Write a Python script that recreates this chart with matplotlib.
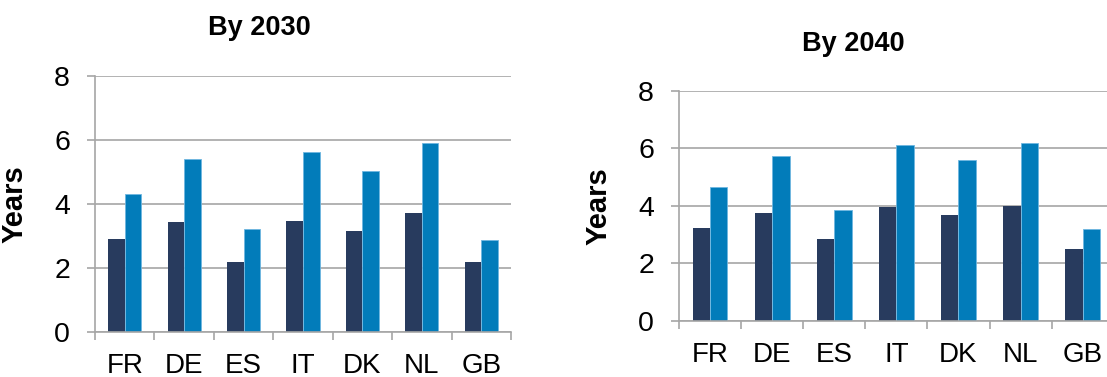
import numpy as np
import matplotlib
matplotlib.use("Agg")
import matplotlib.pyplot as plt

plt.rcParams["font.family"] = ["Liberation Sans", "DejaVu Sans"]

countries = ["FR", "DE", "ES", "IT", "DK", "NL", "GB"]

# By 2030
dark_2030 = [2.89, 3.44, 2.18, 3.46, 3.14, 3.72, 2.18]
blue_2030 = [4.31, 5.39, 3.22, 5.62, 5.03, 5.91, 2.88]

# By 2040
dark_2040 = [3.23, 3.75, 2.84, 3.95, 3.68, 3.98, 2.50]
blue_2040 = [4.65, 5.72, 3.87, 6.10, 5.58, 6.18, 3.18]

DARK = "#283B5E"
BLUE = "#027CBA"
GRID = "#A6A6A6"

W, H = 1107, 377
fig = plt.figure(figsize=(W / 100, H / 100), dpi=100)


def draw(rect, dark, blue, title, title_xy, ylabel_x):
    ax = fig.add_axes(rect)
    x = np.arange(len(countries))
    bw = 0.28
    ax.bar(x - bw / 2, dark, bw, color=DARK, zorder=3)
    ax.bar(x + bw / 2, blue, bw, color=BLUE, edgecolor="#6FB7E0", linewidth=0.6, zorder=3)

    ax.set_xlim(-0.5, len(countries) - 0.5)
    ax.set_ylim(0, 8)
    ax.set_yticks([0, 2, 4, 6, 8])
    ax.yaxis.grid(True, color=GRID, linewidth=1.2, zorder=0)
    ax.set_axisbelow(True)

    for s in ["top", "right"]:
        ax.spines[s].set_visible(False)
    for s in ["left", "bottom"]:
        ax.spines[s].set_color(GRID)
        ax.spines[s].set_linewidth(1.2)
        ax.spines[s].set_zorder(4)

    # category labels at centres, tick marks at boundaries
    ax.set_xticks(x)
    ax.set_xticklabels(countries)
    ax.set_xticks(np.arange(len(countries) + 1) - 0.5, minor=True)
    ax.tick_params(axis="x", which="major", length=0, pad=15, labelsize=20)
    ax.tick_params(axis="x", which="minor", length=6, width=1.2, color=GRID)
    ax.tick_params(axis="y", length=6, width=1.2, color=GRID, pad=12, labelsize=20.5)

    ax.set_ylabel("Years", fontsize=21, fontweight="bold")
    ax.yaxis.set_label_coords(ylabel_x, 0.5)

    fig.text(title_xy[0], title_xy[1], title, fontsize=19.5, fontweight="bold",
             ha="center", va="baseline")
    return ax


draw([95 / W, 1 - 331.7 / H, 416 / W, 256 / H], dark_2030, blue_2030,
     "By 2030", (259 / W, 1 - 35 / H), -0.159)
draw([679 / W, 1 - 321 / H, 434.7 / W, 230.3 / H], dark_2040, blue_2040,
     "By 2040", (853 / W, 1 - 51 / H), -0.154)

fig.savefig("out.png", dpi=100)
